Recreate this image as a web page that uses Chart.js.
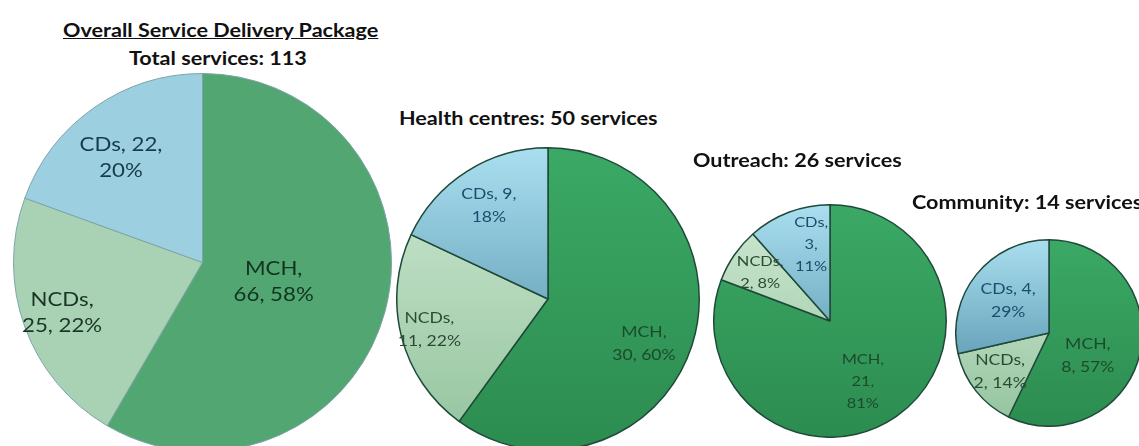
<!DOCTYPE html>
<html>
<head>
<meta charset="utf-8">
<script src="https://cdn.jsdelivr.net/npm/chart.js@4.4.1/dist/chart.umd.min.js"></script>
<style>
  html, body { margin: 0; padding: 0; background: #fff; overflow: hidden; }
  #wrap { position: relative; width: 1139px; height: 446px; overflow: hidden; }
  #wrap canvas { position: absolute; }
  .ttl { position: absolute; font-family: Lato, sans-serif; font-weight: bold; font-size: 18px;
         line-height: 20px; color: #111; white-space: nowrap;
         transform: scaleX(1.2); transform-origin: left center; }
</style>
</head>
<body>
<div id="wrap">
  <canvas id="pie1"></canvas>
  <canvas id="pie2"></canvas>
  <canvas id="pie3"></canvas>
  <canvas id="pie4"></canvas>
  <div class="ttl" style="left:63px; top:20px; text-decoration: underline;">Overall Service Delivery Package</div>
  <div class="ttl" style="left:129px; top:48px;">Total services: 113</div>
  <div class="ttl" style="left:399px; top:108px;">Health centres: 50 services</div>
  <div class="ttl" style="left:693px; top:150px;">Outreach: 26 services</div>
  <div class="ttl" style="left:912px; top:192px;">Community: 14 services</div>
</div>
<script>
// datos
const categorias = ['MCH', 'NCDs', 'CDs']

const totalValores = [66, 25, 22]
const totalPct = ['58%', '22%', '20%']

const centrosValores = [30, 11, 9]
const centrosPct = ['60%', '22%', '18%']

const outreachValores = [21, 2, 3]
const outreachPct = ['81%', '8%', '11%']

const comunidadValores = [8, 2, 4]
const comunidadPct = ['57%', '14%', '29%']

// como se corta cada etiqueta: 1 = "MCH," / "66, 58%", 2 = "CDs, 22," / "20%", 3 = tres lineas
const cortes1 = [1, 1, 2]
const cortes2 = [1, 1, 2]
const cortes3 = [3, 1, 3]
const cortes4 = [1, 1, 2]

function lineas(nombre, valor, pct, modo) {
    if (modo == 2) return [nombre + ', ' + valor + ',', pct]
    if (modo == 3) return [nombre + ',', valor + ',', pct]
    return [nombre + ',', valor + ', ' + pct]
}

//plugin etiquetas dentro de cada tajada
const etiquetas = {
    id: 'etiquetas',
    afterDatasetsDraw(chart, args, opts) {
        const ctx = chart.ctx
        const meta = chart.getDatasetMeta(0)
        const ds = chart.data.datasets[0]
        meta.data.forEach((arc, i) => {
            const p = arc.getProps(['x', 'y', 'startAngle', 'endAngle', 'outerRadius'])
            const ang = (p.startAngle + p.endAngle) / 2 + opts.giro[i] * Math.PI / 180
            const r = p.outerRadius * opts.radio[i]
            const x = p.x + Math.cos(ang) * r
            const y = p.y + Math.sin(ang) * r
            const ls = lineas(chart.data.labels[i], ds.data[i], opts.pct[i], opts.cortes[i])
            ctx.save()
            ctx.translate(x, y)
            ctx.scale(1.17, 1)
            ctx.font = opts.size + 'px Lato, sans-serif'
            ctx.textAlign = 'center'
            ctx.textBaseline = 'middle'
            ctx.fillStyle = opts.colores[i]
            ls.forEach((t, k) => {
                ctx.fillText(t, 0, (k - (ls.length - 1) / 2) * opts.alto)
            })
            ctx.restore()
        })
    }
}

function degradado(chart, arriba, abajo, plano) {
    const a = chart.chartArea
    if (!a) return plano
    const g = chart.ctx.createLinearGradient(0, a.top, 0, a.bottom)
    g.addColorStop(0, arriba)
    g.addColorStop(1, abajo)
    return g
}

function crearPie(id, cx, cy, r, valores, pct, cortes, conf) {
    const canvas = document.getElementById(id)
    const lado = Math.round(2 * r + conf.borde)
    canvas.width = lado
    canvas.height = lado
    canvas.style.left = (cx - lado / 2) + 'px'
    canvas.style.top = (cy - lado / 2) + 'px'
    return new Chart(canvas, {
        type: 'pie',
        data: {
            labels: categorias,
            datasets: [{
                data: valores,
                backgroundColor: (c) => {
                    const f = conf.fondos[c.dataIndex]
                    return f.length == 2 ? degradado(c.chart, f[0], f[1], f[0]) : f[0]
                },
                borderColor: conf.lineaColor,
                borderWidth: conf.borde
            }]
        },
        options: {
            responsive: false,
            animation: false,
            layout: { padding: 0 },
            plugins: {
                legend: { display: false },
                tooltip: { enabled: false },
                etiquetas: {
                    size: conf.letra,
                    alto: conf.alto,
                    radio: conf.radio,
                    giro: conf.giro,
                    pct: pct,
                    cortes: cortes,
                    colores: conf.colores
                }
            }
        },
        plugins: [etiquetas]
    })
}

const fondosPlanos = [['#52a671'], ['#a8d2b3'], ['#9ccfdf']]
const fondosDeg = [['#3ba965', '#2c8c50'], ['#cfe9d3', '#93c39d'], ['#aadff0', '#3f7f99']]

crearPie('pie1', 202, 262, 189, totalValores, totalPct, cortes1, {
    borde: 1, lineaColor: '#7fa3a8', fondos: fondosPlanos,
    letra: 19, alto: 26, radio: [0.39, 0.79, 0.70], giro: [0, 0, -3],
    colores: ['#123321', '#1a3525', '#173a4c']
})
crearPie('pie2', 548, 299, 151, centrosValores, centrosPct, cortes2, {
    borde: 1.5, lineaColor: '#1f4a3a', fondos: fondosDeg,
    letra: 15, alto: 23, radio: [0.70, 0.81, 0.73], giro: [7, 0, 0],
    colores: ['#1d4a2c', '#2b4a33', '#1d4d6c']
})
crearPie('pie3', 830, 321, 116, outreachValores, outreachPct, cortes3, {
    borde: 1.5, lineaColor: '#1f4a3a', fondos: fondosDeg,
    letra: 14, alto: 22, radio: [0.59, 0.73, 0.68], giro: [6, 0, 7],
    colores: ['#1d4a2c', '#2b4a33', '#1d4d6c']
})
crearPie('pie4', 1049, 333, 93, comunidadValores, comunidadPct, cortes4, {
    borde: 1.5, lineaColor: '#1f4a3a', fondos: fondosDeg,
    letra: 15, alto: 23, radio: [0.48, 0.67, 0.56], giro: [17, 0, 0],
    colores: ['#1d4a2c', '#2b4a33', '#1d4d6c']
})
</script>
</body>
</html>
